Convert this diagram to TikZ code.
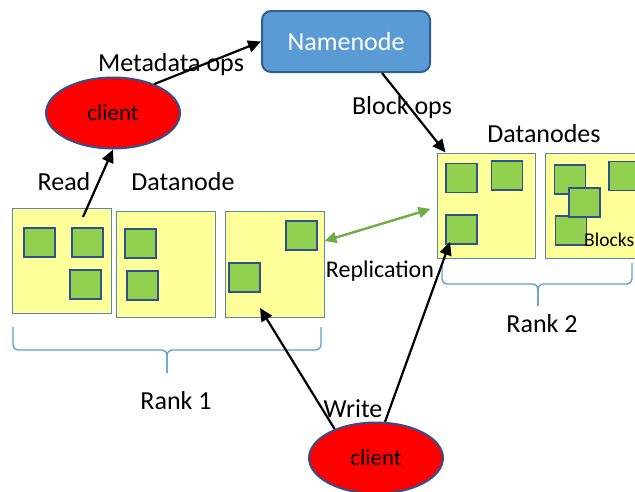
\documentclass[tikz,border=0pt]{standalone}
\usepackage{fontspec}
\setmainfont{Carlito}
\usetikzlibrary{shapes.geometric,arrows.meta,positioning}
\definecolor{nnblue}{HTML}{5B9BD5}
\definecolor{nnedge}{HTML}{2E5F8E}
\definecolor{dnyellow}{HTML}{FFFF99}
\definecolor{boxedge}{HTML}{5A86B0}
\definecolor{blkgreen}{HTML}{92D050}
\definecolor{blkedge}{HTML}{2F528F}
\definecolor{replgreen}{HTML}{70AD47}
\begin{document}
\begin{tikzpicture}[x=1pt,y=-1pt]

    \tikzstyle{every node}=[font=\fontsize{26}{30}\selectfont]
    \tikzstyle{dnbox}=[draw=boxedge, fill=dnyellow, line width=1pt, inner sep=0pt, minimum width=99pt, minimum height=105pt]
    \tikzstyle{blk}=[draw=blkedge, fill=blkgreen, line width=1.2pt, inner sep=0pt, minimum width=31pt, minimum height=29pt]
    \tikzstyle{client}=[ellipse, draw=blkedge, fill=red, line width=2pt, inner sep=0pt, minimum width=134pt, minimum height=71pt, font=\fontsize{23}{28}\selectfont]
    \tikzstyle{op}=[-{Triangle[length=13pt,width=12pt]}, line width=2.2pt]
    \tikzstyle{repl}=[{Triangle[length=12pt,width=11pt]}-{Triangle[length=12pt,width=11pt]}, line width=2.4pt, replgreen]
    \tikzstyle{brace}=[draw=nnblue, line width=1.3pt, rounded corners=5pt]
    \tikzstyle{lbl}=[anchor=base, inner sep=0pt]

    \clip (0,0) rectangle (635,491);

    % datanodes
    \node[dnbox] (dn1) at (61.5,260.5) {};
    \node[dnbox, minimum height=106pt] (dn2) at (165.5,264) {};
    \node[dnbox, minimum height=106pt] (dn3) at (274.5,264) {};
    \node[dnbox, minimum width=98pt] (dnA) at (486,205.5) {};
    \node[dnbox] (dnB) at (594.5,205.5) {};

    % blocks
    \node[blk] (b1) at (39.5,242.5) {};
    \node[blk] (b2) at (87.5,242.5) {};
    \node[blk] (b3) at (85.5,284.5) {};
    \node[blk] (b4) at (140.5,243.5) {};
    \node[blk] (b5) at (142.5,285.5) {};
    \node[blk] (b6) at (301.5,235.5) {};
    \node[blk] (b7) at (244.5,277.5) {};
    \node[blk] (b8) at (461.5,178) {};
    \node[blk] (b9) at (507,175.5) {};
    \node[blk] (b10) at (461.5,229.5) {};
    \node[blk] (b11) at (570,179.5) {};
    \node[blk] (b12) at (571,230.5) {};
    \node[blk] (b13) at (584.5,202.5) {};
    \node[blk] (b14) at (624.5,176) {};
    \node[lbl, anchor=base west, font=\fontsize{19.5}{24}\selectfont] (blocks) at (584,246) {Blocks};

    \node[draw=nnedge, fill=nnblue, line width=2pt, rounded corners=9pt, minimum width=168pt, minimum height=61pt, text=white] (namenode) at (346,41.5) {Namenode};
    \node[client] (client1) at (113,113) {client};
    \node[client] (client2) at (376,458) {client};

    % labels
    \node[lbl] (meta) at (171,71) {Metadata ops};
    \node[lbl] (read) at (64,190) {Read};
    \node[lbl] (dnlbl) at (183,190) {Datanode};
    \node[lbl] (blockops) at (402,114) {Block ops};
    \node[lbl] (dnslbl) at (544,142) {Datanodes};
    \node[lbl, font=\fontsize{24}{28}\selectfont] (replic) at (380,277) {Replication};
    \node[lbl] (write) at (353,417) {Write};
    \node[lbl] (rank1) at (176,409) {Rank 1};
    \node[lbl] (rank2) at (542,332) {Rank 2};

    % braces
    \draw[brace] (13,327) -- (13,350) -- (167,350) -- (167,373);
    \draw[brace] (321,327) -- (321,350) -- (167,350) -- (167,373);
    \draw[brace] (442,263) -- (442,284) -- (538,284) -- (538,306);
    \draw[brace] (632,263) -- (632,284) -- (538,284) -- (538,306);

    % connectors
    \coordinate (rd) at (83,217);
    \coordinate (wr1) at (260,308);
    \coordinate (wr2) at (450,242);
    \draw[op] (rd) -- (client1.south);
    \draw[op] (client1.35) -- (namenode.west);
    \draw[op] ([xshift=36pt]namenode.south) -- ([xshift=9pt]dnA.north west);
    \draw[repl] ([yshift=23pt]dn3.east) -- ([xshift=-6pt,yshift=-3.5pt]dnA.west);
    \draw[op] (client2.145) -- (wr1);
    \draw[op] (client2.76) -- (wr2);
\end{tikzpicture}
\end{document}
